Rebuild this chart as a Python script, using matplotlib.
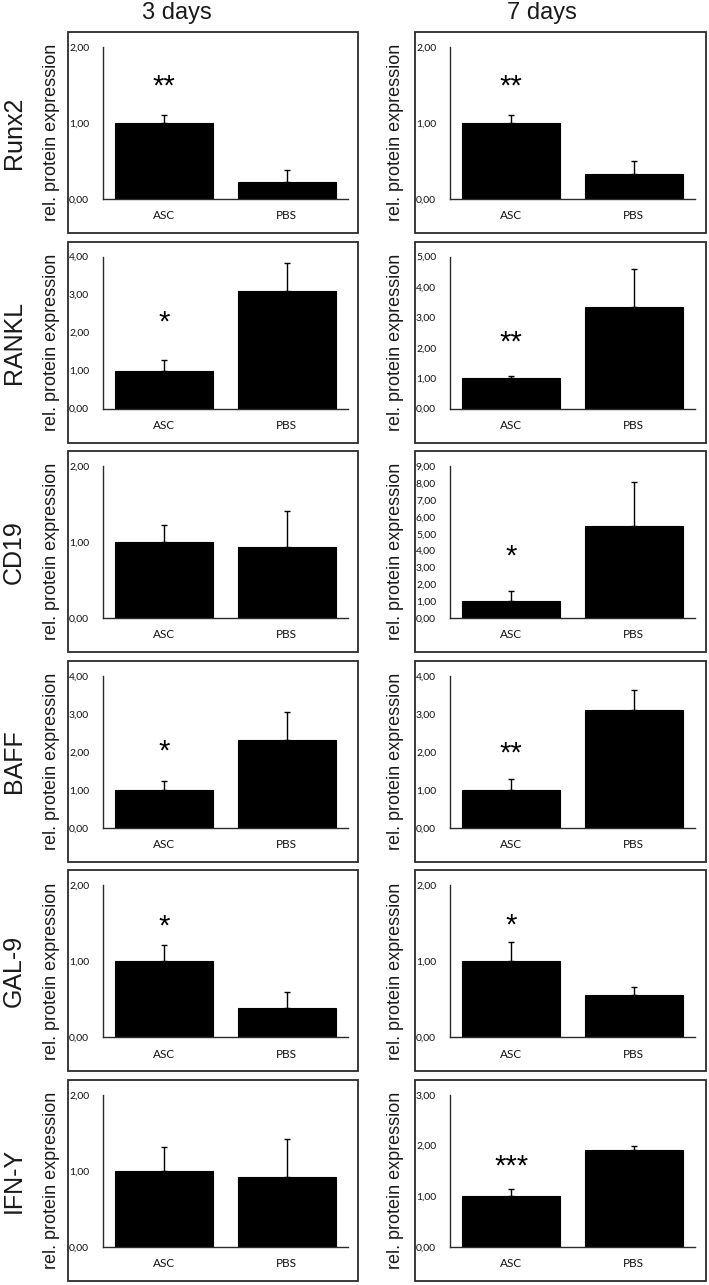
import matplotlib
matplotlib.use("Agg")
import matplotlib.pyplot as plt
from matplotlib.patches import Rectangle
import numpy as np

genes = ["Runx2", "RANKL", "CD19", "BAFF", "GAL-9", "IFN-Y"]
groups = ["ASC", "PBS"]
col_titles = ["3 days", "7 days"]

d3_asc = [1.0, 1.0, 1.0, 1.0, 1.0, 1.0]
d3_asc_err = [0.10, 0.28, 0.22, 0.22, 0.21, 0.31]
d3_pbs = [0.23, 3.10, 0.935, 2.31, 0.39, 0.915]
d3_pbs_err = [0.15, 0.72, 0.47, 0.73, 0.21, 0.50]
d3_ymax = [2, 4, 2, 4, 2, 2]
d3_sig = ["**", "*", "", "*", "*", ""]
d3_sig_y = [1.52, 2.34, 0, 2.09, 1.50, 0]

d7_asc = [1.0, 1.0, 1.0, 1.0, 1.0, 1.0]
d7_asc_err = [0.10, 0.07, 0.60, 0.29, 0.26, 0.14]
d7_pbs = [0.33, 3.33, 5.48, 3.11, 0.56, 1.905]
d7_pbs_err = [0.17, 1.26, 2.57, 0.51, 0.10, 0.08]
d7_ymax = [2, 5, 9, 4, 2, 3]
d7_sig = ["**", "**", "*", "**", "*", "***"]
d7_sig_y = [1.52, 2.28, 3.80, 2.04, 1.51, 1.64]

W, H = 709, 1285
fig = plt.figure(figsize=(W / 100, H / 100), dpi=100)

def fx(px):
    return px / W

def fy(py):
    return 1 - py / H

box_left = [68, 415]
box_width = [290, 291]
row_top0 = 32
row_pitch = 209.6
box_h = 201

cols = [
    (d3_asc, d3_asc_err, d3_pbs, d3_pbs_err, d3_ymax, d3_sig, d3_sig_y),
    (d7_asc, d7_asc_err, d7_pbs, d7_pbs_err, d7_ymax, d7_sig, d7_sig_y),
]

edge = "#2b2b2b"
tick_font = "Lato"
main_font = "Liberation Sans"

for c, (asc, asc_e, pbs, pbs_e, ymax, sig, sig_y) in enumerate(cols):
    for r in range(len(genes)):
        top = row_top0 + r * row_pitch
        bl = box_left[c]
        rect = Rectangle((fx(bl), fy(top + box_h)), box_width[c] / W, box_h / H,
                         transform=fig.transFigure, fill=False,
                         edgecolor=edge, linewidth=1.3)
        fig.patches.append(rect)
        ax_l = bl + 35
        ax_w = 245
        ax_t = top + 15
        ax_b = top + 167
        ax = fig.add_axes([fx(ax_l), fy(ax_b), ax_w / W, (ax_b - ax_t) / H])
        x = np.arange(len(groups))
        vals = [asc[r], pbs[r]]
        errs = [asc_e[r], pbs_e[r]]
        ax.bar(x, vals, width=0.8, color="black", edgecolor="black",
               linewidth=0.8, zorder=2)
        ax.errorbar(x, vals, yerr=[[0, 0], errs], fmt="none", ecolor="black",
                    elinewidth=1.0, capsize=2, capthick=1.0, zorder=3)
        ax.set_xlim(-0.5, 1.5)
        ax.set_ylim(0, ymax[r])
        yt = np.arange(0, ymax[r] + 0.5, 1)
        ax.set_yticks(yt)
        ax.set_yticklabels([("%.2f" % v).replace(".", ",") for v in yt],
                           fontfamily=tick_font, fontsize=7.5, color="#111111")
        ax.set_xticks(x)
        ax.set_xticklabels(groups, fontfamily=tick_font, fontsize=8.5,
                           color="#111111")
        ax.tick_params(axis="both", length=0)
        ax.tick_params(axis="y", pad=10)
        ax.tick_params(axis="x", pad=8)
        for s in ["top", "right"]:
            ax.spines[s].set_visible(False)
        for s in ["left", "bottom"]:
            ax.spines[s].set_color(edge)
            ax.spines[s].set_linewidth(1.0)
        ax.patch.set_alpha(0)
        if sig[r]:
            ax.text(0, sig_y[r], sig[r], ha="center", va="center_baseline",
                    fontsize=21, fontfamily=main_font, color="black")
        ylab_x = 52 if c == 0 else 396
        fig.text(fx(ylab_x), fy(top + box_h / 2), "rel. protein expression",
                 rotation=90, ha="center", va="center",
                 fontsize=13, fontfamily=main_font, color="#1a1a1a")
        if c == 0:
            fig.text(fx(14), fy(top + box_h / 2), genes[r], rotation=90,
                     ha="center", va="center", fontsize=18,
                     fontfamily=main_font, color="#1a1a1a")

fig.text(fx(177), fy(13), col_titles[0], ha="center", va="center",
         fontsize=17, fontfamily=main_font, color="#1a1a1a")
fig.text(fx(542), fy(13), col_titles[1], ha="center", va="center",
         fontsize=17, fontfamily=main_font, color="#1a1a1a")

fig.savefig("out.png", dpi=100)
